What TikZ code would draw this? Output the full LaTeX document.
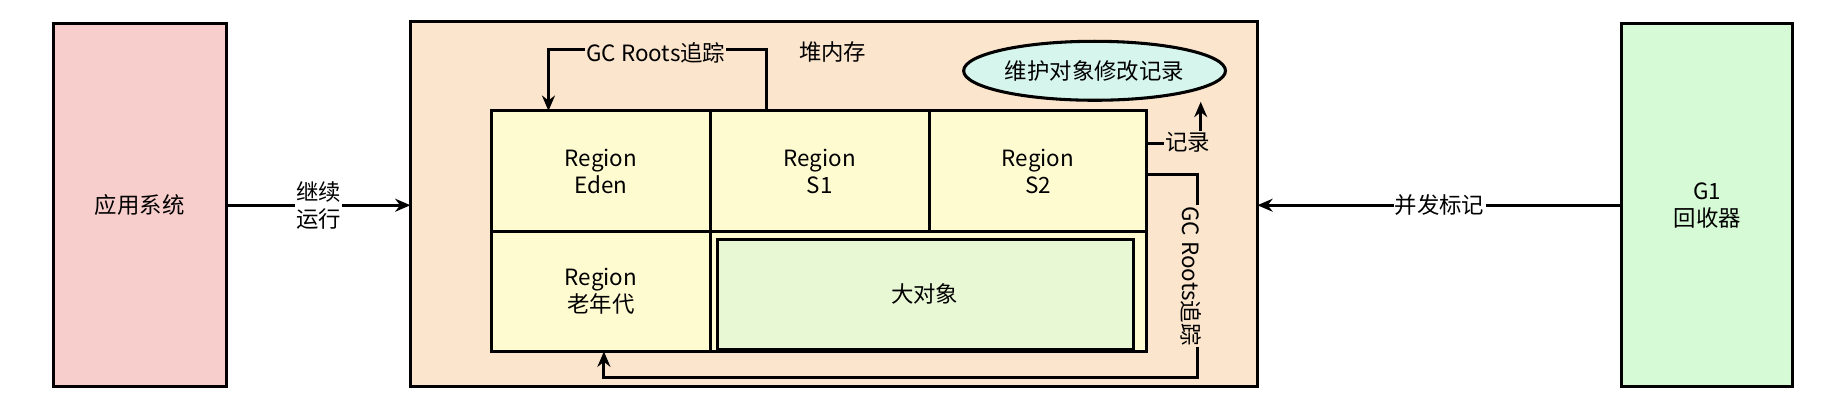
\documentclass[tikz,border=0pt]{standalone}
\usepackage{fontspec}
\setmainfont{Noto Sans CJK SC}
\usetikzlibrary{arrows.meta,shapes.geometric}

\begin{document}
\begin{tikzpicture}
  \begin{scope}[x={(1pt,0pt)},y={(0pt,-1pt)},every
    node/.style={font=\fontsize{19}{23}\selectfont,align=center},every
    path/.style={black,line width=2.6pt},
    conn/.style={-{Stealth[length=13pt,width=11pt]}},
    cell/.style={draw,fill=cellc}]
    \definecolor{appc}{HTML}{F8CECC}
    \definecolor{heapc}{HTML}{FBE5CD}
    \definecolor{cellc}{HTML}{FFFBD0}
    \definecolor{bigc}{HTML}{E9F8D4}
    \definecolor{gc}{HTML}{D5FAD5}
    \definecolor{ellc}{HTML}{D6F5EC}
    \useasboundingbox (0,0) rectangle (1560,342.6);
    % outer boxes
    \draw[fill=appc] (45,20) rectangle (192,328);
    \node (app) at (118.5,174) {应用系统};
    \draw[fill=heapc] (348,18) rectangle (1066,328);
    \coordinate (heapL) at (348,174);
    \coordinate (heapR) at (1066,174);
    \draw[fill=gc] (1375,20) rectangle (1520,328);
    \node (gone) at (1447.5,174) {G1\\回收器};
    \node (heap) at (706,44) {堆内存};

    % regions
    \draw[cell] (417,94) rectangle (602,196);
    \draw[cell] (602,94) rectangle (788,196);
    \draw[cell] (788,94) rectangle (972,196);
    \draw[cell] (417,196) rectangle (602,298);
    \draw[cell] (602,196) rectangle (972,298);
    \draw[fill=bigc] (608,203) rectangle (961,296);
    \node (eden) at (509.5,145) {Region\\Eden};
    \node (sone) at (695,145) {Region\\S1};
    \node (stwo) at (880,145) {Region\\S2};
    \node (old) at (509.5,247) {Region\\老年代};
    \node (big) at (784,249) {大对象};

    \node[draw,ellipse,fill=ellc,minimum width=222pt,minimum height=50pt,inner sep=0pt] (rec) at (928,60) {维护对象修改记录};

    % connectors
    \draw[conn] (app.east -| 192,0) -- node[fill=white,inner sep=1pt]{继续\\运行} (heapL);
    \draw[conn] (1375,174) -- node[fill=white,inner sep=1pt]{并发标记} (heapR);
    \draw[conn] (650,94) -- (650,42) -- (465,42) -- (465,94);
    \node[fill=heapc,inner sep=1pt] (gctop) at (556,45) {GC Roots追踪};
    \draw[conn] (972,122) -- (1018,122) -- (rec.south -| 1018,0);
    \node[fill=heapc,inner sep=1pt] (note) at (1007,121) {记录};
    \draw[conn] (972,148) -- (1015,148) -- (1015,320) -- (512,320) -- (512,298);
    \node[fill=heapc,inner sep=1pt,rotate=-90] (gcright) at (1010,234) {GC Roots追踪};
  \end{scope}
\end{tikzpicture}
\end{document}
